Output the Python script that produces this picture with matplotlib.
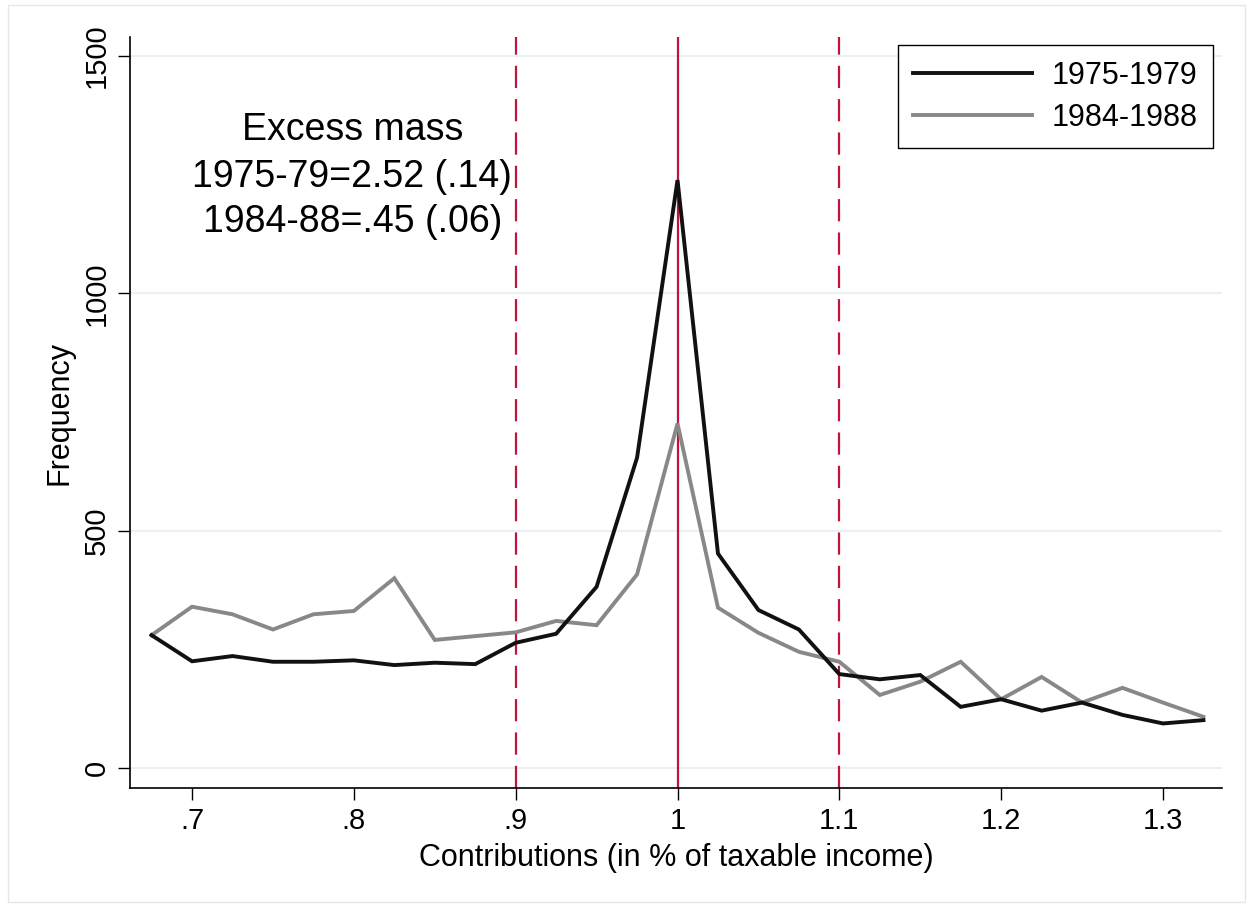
import matplotlib
matplotlib.use("Agg")
import matplotlib.pyplot as plt
from matplotlib.patches import Rectangle

plt.rcParams['font.family'] = ['Liberation Sans', 'DejaVu Sans']

x = [0.675, 0.700, 0.725, 0.750, 0.775, 0.800, 0.825, 0.850, 0.875, 0.900,
     0.925, 0.950, 0.975, 1.000, 1.025, 1.050, 1.075, 1.100, 1.125, 1.150,
     1.175, 1.200, 1.225, 1.250, 1.275, 1.300, 1.325]
y_7579 = [280, 225, 236, 224, 224, 227, 217, 222, 219, 264,
          283, 382, 654, 1239, 452, 333, 292, 198, 187, 196,
          129, 145, 121, 138, 112, 94, 101]
y_8488 = [280, 340, 324, 292, 324, 331, 400, 270, 278, 286,
          310, 301, 408, 726, 338, 285, 245, 224, 154, 182,
          224, 145, 192, 138, 169, 138, 108]
series_labels = ["1975-1979", "1984-1988"]
xticks = [0.7, 0.8, 0.9, 1.0, 1.1, 1.2, 1.3]
xtick_labels = [".7", ".8", ".9", "1", "1.1", "1.2", "1.3"]
yticks = [0, 500, 1000, 1500]
vlines_dashed = [0.9, 1.1]
vline_solid = 1.0
annot = ["Excess mass", "1975-79=2.52 (.14)", "1984-88=.45 (.06)"]

fig = plt.figure(figsize=(12.53, 9.07), dpi=100)
ax = fig.add_axes([0.1038, 0.1312, 0.9753 - 0.1038, 0.959 - 0.1312])

fig.patches.append(Rectangle((0.006, 0.006), 0.988, 0.988, transform=fig.transFigure,
                             fill=False, edgecolor='#e6e6e6', linewidth=1.0))

for yt in yticks:
    ax.axhline(yt, color='#eaf1f3', linewidth=1.5, zorder=0)

red = '#c0143c'
for v in vlines_dashed:
    ax.axvline(v, color=red, linewidth=1.6, linestyle=(0, (10, 5)), zorder=1)
ax.axvline(vline_solid, color=red, linewidth=1.6, zorder=1)

ax.plot(x, y_7579, color='#111111', linewidth=2.8, label=series_labels[0], zorder=3,
        solid_joinstyle='miter')
ax.plot(x, y_8488, color='#888888', linewidth=2.8, label=series_labels[1], zorder=2,
        solid_joinstyle='miter')

ax.set_xlim(0.6617, 1.3365)
ax.set_ylim(-42, 1540)
ax.set_xticks(xticks)
ax.set_xticklabels(xtick_labels)
ax.set_yticks(yticks)
ax.set_yticklabels([str(t) for t in yticks], rotation=90, va='center')
ax.tick_params(axis='both', direction='out', length=8.6, width=1, labelsize=21, pad=5)
for s in ['top', 'right']:
    ax.spines[s].set_visible(False)
for s in ['left', 'bottom']:
    ax.spines[s].set_linewidth(1.2)

ax.set_xlabel("Contributions (in % of taxable income)", fontsize=22, labelpad=6)
ax.set_ylabel("Frequency", fontsize=22, labelpad=6)

ax.text(0.799, 1344, annot[0], fontsize=27, ha='center', va='center')
ax.text(0.799, 1245, annot[1], fontsize=27, ha='center', va='center')
ax.text(0.799, 1150, annot[2], fontsize=27, ha='center', va='center')

leg = ax.legend(loc='upper right', bbox_to_anchor=(0.992, 0.989), borderaxespad=0,
                fontsize=22, handlelength=3.9, fancybox=False, framealpha=1,
                edgecolor='black', borderpad=0.5, labelspacing=0.4, handletextpad=0.65)
leg.get_frame().set_linewidth(1.0)

fig.savefig("out.png", dpi=100)
